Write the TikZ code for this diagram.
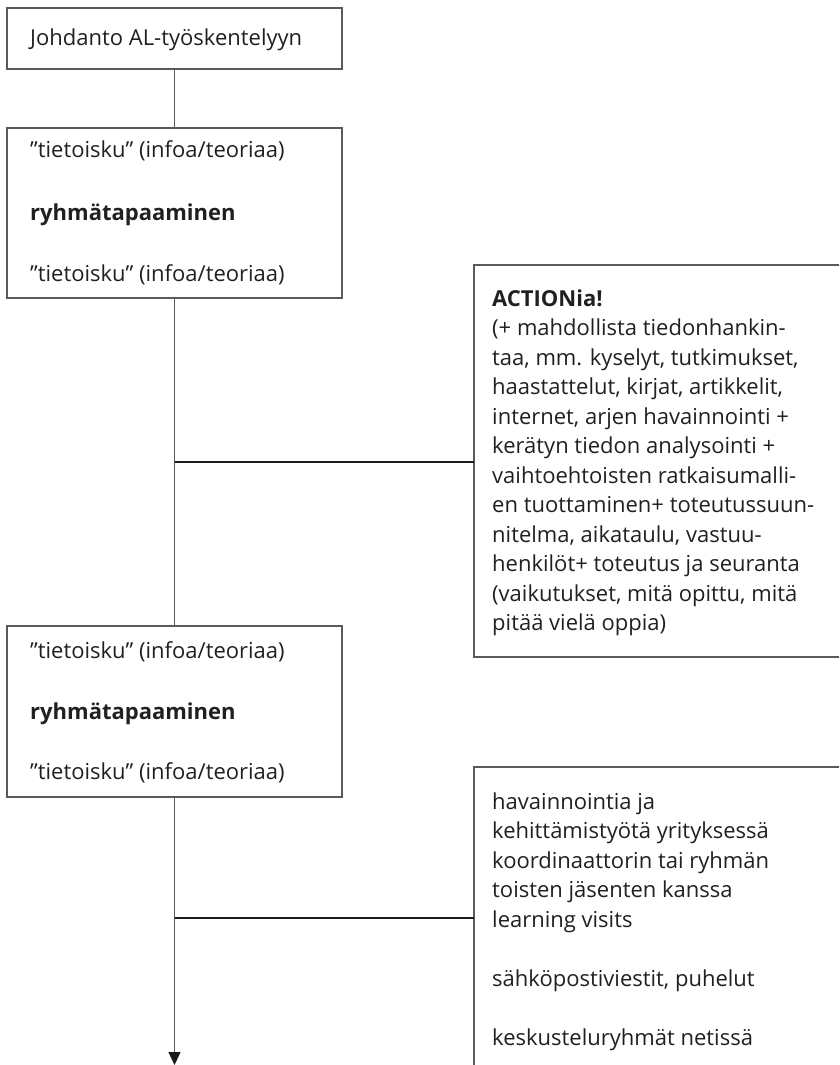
\documentclass[tikz,border=0pt]{standalone}
\usepackage{fontspec}
\setmainfont{Open Sans}
\usetikzlibrary{arrows.meta}
\definecolor{textcol}{HTML}{231F20}
\definecolor{boxgray}{HTML}{5A5A5A}
\definecolor{linecol}{HTML}{1A1A1A}
\begin{document}
\begin{tikzpicture}[x=1pt,y=-1pt,
  box/.style={draw=boxgray,line width=1.3pt,inner sep=0pt,outer sep=0pt,anchor=north west},
  txt/.style={anchor=base west,inner sep=0pt,font=\fontsize{22}{29.5}\selectfont,text=textcol},
  btxt/.style={txt,font=\fontsize{22}{29.5}\selectfont\bfseries},
  trunk/.style={draw=boxgray,line width=1.3pt},
  conn/.style={draw=linecol,line width=1.3pt},
  tipstyle/.style={-{Triangle[length=13pt,width=12pt,fill=linecol,color=linecol]}}]
\useasboundingbox (0,0) rectangle (839,1065);
\clip (0,0) rectangle (839,1065);
% left column boxes
\node[box,minimum width=335pt,minimum height=61pt] (b1) at (7,8) {};
\node[box,minimum width=335pt,minimum height=170pt] (b2) at (7,128) {};
\node[box,minimum width=335pt,minimum height=171pt] (b3) at (7,626) {};
% right boxes (clipped at the page edge)
\node[box,minimum width=420pt,minimum height=392pt] (ra) at (474,265) {};
\node[box,minimum width=420pt,minimum height=400pt] (rb) at (474,767) {};
% texts
\node[txt] (t1) at (30,46) {Johdanto AL-työskentelyyn};
\node[txt] (t2a) at (30,157) {”tietoisku” (infoa/teoriaa)};
\node[btxt] (t2b) at (30,220) {ryhmätapaaminen};
\node[txt] (t2c) at (30,281) {”tietoisku” (infoa/teoriaa)};
\node[txt] (t3a) at (30,658) {”tietoisku” (infoa/teoriaa)};
\node[btxt] (t3b) at (30,719) {ryhmätapaaminen};
\node[txt] (t3c) at (30,779) {”tietoisku” (infoa/teoriaa)};
\node[btxt] (ra0) at (492,306) {ACTIONia!};
\foreach \t [count=\i] in {
  {(+ mahdollista tiedonhankin-},
  {taa, mm. kyselyt, tutkimukset,},
  {haastattelut, kirjat, artikkelit,},
  {internet, arjen havainnointi +},
  {kerätyn tiedon analysointi +},
  {vaihtoehtoisten ratkaisumalli-},
  {en tuottaminen+ toteutussuun-},
  {nitelma, aikataulu, vastuu-},
  {henkilöt+ toteutus ja seuranta},
  {(vaikutukset, mitä opittu, mitä},
  {pitää vielä oppia)}}
  \node[txt] (ra\i) at (492,306+29.5*\i) {\t};
\node[txt] (rb0) at (492,809) {havainnointia ja};
\node[txt] (rb1) at (492,838.5) {kehittämistyötä yrityksessä};
\node[txt] (rb2) at (492,868) {koordinaattorin tai ryhmän};
\node[txt] (rb3) at (492,897.5) {toisten jäsenten kanssa};
\node[txt] (rb4) at (492,927) {learning visits};
\node[txt] (rb5) at (492,986) {sähköpostiviestit, puhelut};
\node[txt] (rb6) at (492,1045) {keskusteluryhmät netissä};
% connectors
\draw[trunk] (b1.south) -- (b2.north);
\draw[trunk] (b2.south) -- (b3.north);
\coordinate (tip) at (b3.south |- 0,1065);
\draw[trunk,tipstyle] (b3.south) -- (tip);
\coordinate (ja) at (b2.south |- 0,462);
\draw[conn] (ja) -- (ra.west |- ja);
\coordinate (jb) at (b3.south |- 0,918);
\draw[conn] (jb) -- (rb.west |- jb);
\end{tikzpicture}
\end{document}
